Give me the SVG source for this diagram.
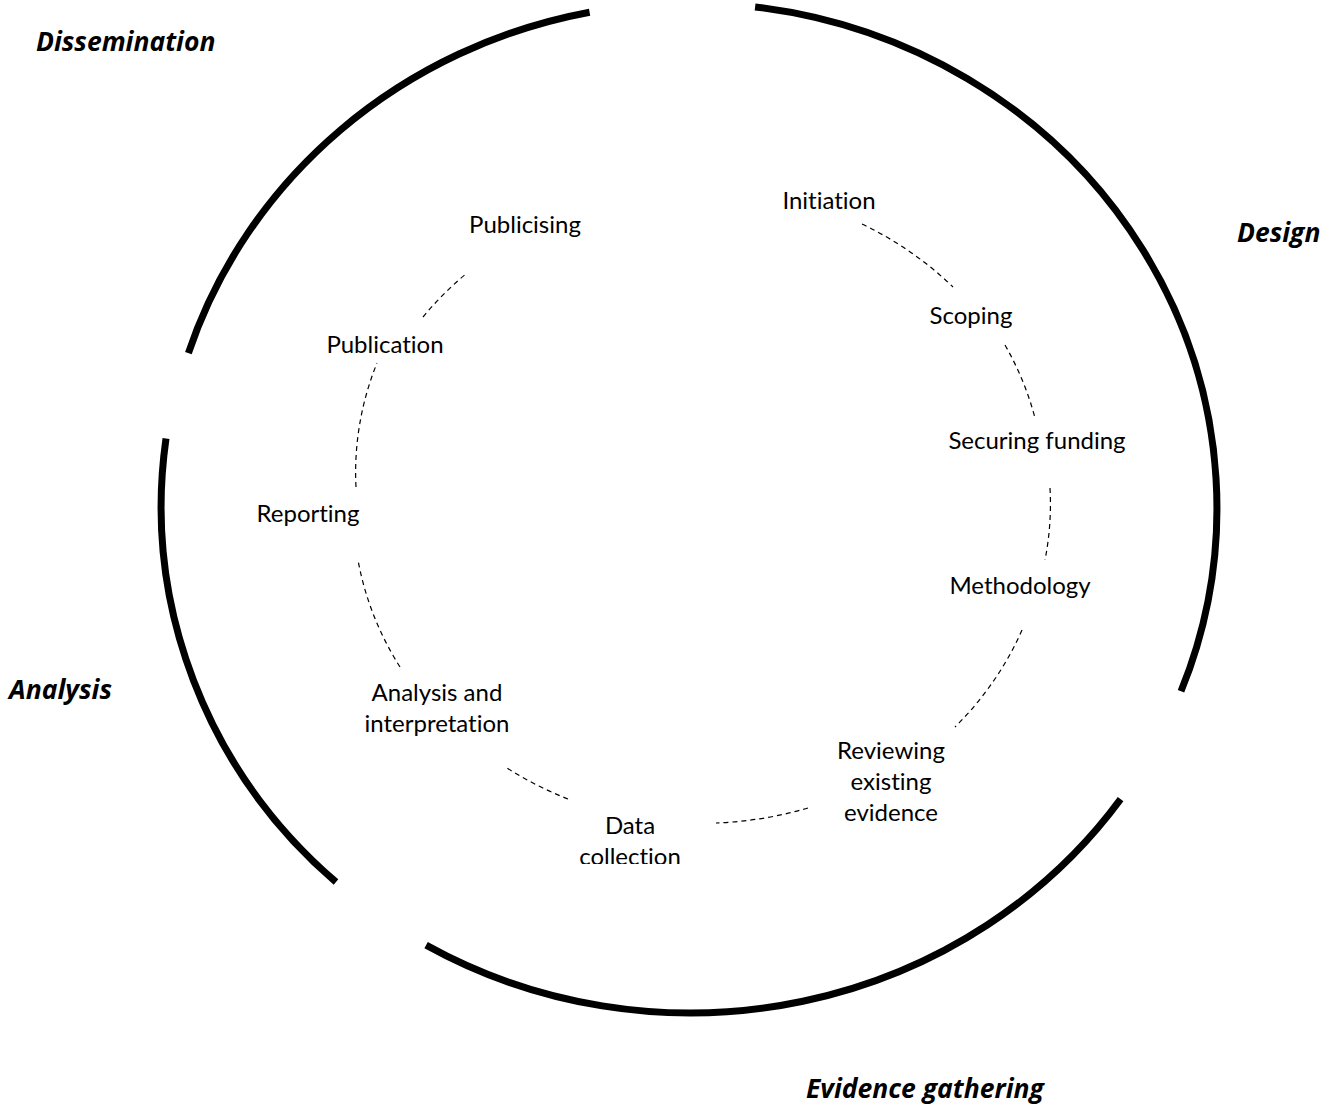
<svg xmlns="http://www.w3.org/2000/svg" width="1338" height="1115" viewBox="0 0 1338 1115">
<style>
.ring{fill:none;stroke:#000;stroke-width:7;stroke-linecap:butt}
.dash{fill:none;stroke:#000;stroke-width:1.2;stroke-dasharray:5 4}
.step{font-family:Lato,"Open Sans",sans-serif;font-size:24px;fill:#000;text-anchor:middle;font-variant-ligatures:none}
.phase{font-family:"Open Sans",Lato,sans-serif;font-size:26.5px;font-weight:bold;font-style:italic;fill:#000}
</style>
<defs>
<clipPath id="clipData"><rect x="540" y="790" width="180" height="74"/></clipPath>
</defs>
<rect width="1338" height="1115" fill="#fff"/>
<g id="outer-ring">
<path class="ring" d="M 755.1 6.9 A 527 505 0 0 1 1181 691.3"/>
<path class="ring" d="M 1120.6 799.1 A 527 505 0 0 1 426.1 945.1"/>
<path class="ring" d="M 336 882 A 527 505 0 0 1 166 438.4"/>
<path class="ring" d="M 188.4 353.1 A 527 505 0 0 1 589.6 12.2"/>
</g>
<g id="phases">
<text id="dissemination" class="phase" x="36" y="51">Dissemination</text>
<text id="design" class="phase" x="1237" y="242">Design</text>
<text id="analysis" class="phase" x="9" y="699">Analysis</text>
<text id="evidence" class="phase" x="806" y="1098">Evidence gathering</text>
</g>
<g id="connectors">
<path class="dash" d="M 862 224 A 347 317 0 0 1 953 287"/>
<path class="dash" d="M 1005 345 A 347 317 0 0 1 1035 418"/>
<path class="dash" d="M 1050 488 A 347 317 0 0 1 1045 560"/>
<path class="dash" d="M 1022 630 A 347 317 0 0 1 955 727"/>
<path class="dash" d="M 808 808 A 347 317 0 0 1 716 823"/>
<path class="dash" d="M 568 799 A 347 317 0 0 1 507 768"/>
<path class="dash" d="M 400 667 A 347 317 0 0 1 358 560"/>
<path class="dash" d="M 356 487 A 347 317 0 0 1 377 363"/>
<path class="dash" d="M 423 317 A 347 317 0 0 1 467 273"/>
</g>
<g id="initiation"><text class="step" x="829" y="209">Initiation</text></g>
<g id="scoping"><text class="step" x="971" y="324">Scoping</text></g>
<g id="securing-funding"><text class="step" x="1037" y="449">Securing funding</text></g>
<g id="methodology"><text class="step" x="1020" y="594">Methodology</text></g>
<g id="reviewing"><text class="step" x="891" y="759">Reviewing<tspan x="891" dy="31">existing</tspan><tspan x="891" dy="31">evidence</tspan></text></g>
<g id="data-collection" clip-path="url(#clipData)"><text class="step" x="630" y="834">Data<tspan x="630" dy="31">collection</tspan></text></g>
<g id="analysis-interpretation"><text class="step" x="437" y="701">Analysis and<tspan x="437" dy="31">interpretation</tspan></text></g>
<g id="reporting"><text class="step" x="308" y="522">Reporting</text></g>
<g id="publication"><text class="step" x="385" y="353">Publication</text></g>
<g id="publicising"><text class="step" x="525" y="233">Publicising</text></g>
</svg>
